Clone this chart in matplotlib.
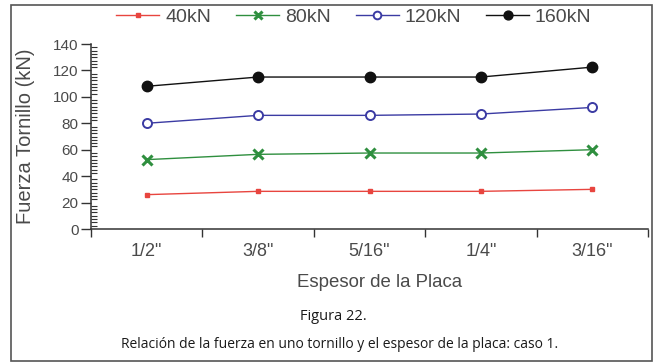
import numpy as np
import matplotlib
matplotlib.use("Agg")
import matplotlib.pyplot as plt
from matplotlib.patches import Rectangle
from matplotlib.ticker import MultipleLocator

# Plate thickness categories and bolt force (kN) for each applied load
espesores = ['1/2"', '3/8"', '5/16"', '1/4"', '3/16"']
serie_40 = [26, 28.5, 28.5, 28.5, 30]
serie_80 = [52.5, 56.5, 57.5, 57.5, 60]
serie_120 = [80, 86, 86, 87, 92]
serie_160 = [108, 115, 115, 115, 122.5]
etiquetas = ["40kN", "80kN", "120kN", "160kN"]

plt.rcParams["font.family"] = ["Liberation Sans", "DejaVu Sans"]
gris = "#4a4a4a"

fig = plt.figure(figsize=(6.56, 3.63), dpi=100)
ax = fig.add_axes([91 / 656, 1 - 229 / 363, (648 - 91) / 656, (229 - 44) / 363])

x = np.arange(len(espesores)) + 0.5
ax.plot(x, serie_40, color="#e8453f", lw=1.0, marker="s", ms=2.8, label=etiquetas[0])
ax.plot(x, serie_80, color="#2f8f3f", lw=1.0, marker="x", ms=6.5, mew=2.2, label=etiquetas[1])
ax.plot(x, serie_120, color="#3b3ba3", lw=1.0, marker="o", ms=6.5, mfc="white", mew=1.4,
        label=etiquetas[2])
ax.plot(x, serie_160, color="#111111", lw=1.0, marker="o", ms=7.5, label=etiquetas[3])

ax.set_xlim(0, len(espesores))
ax.set_ylim(0, 140)
for s in ("top", "right"):
    ax.spines[s].set_visible(False)
for s in ("left", "bottom"):
    ax.spines[s].set_color("#333333")
    ax.spines[s].set_linewidth(1.1)

ax.set_xticks(np.arange(len(espesores) + 1))
ax.set_xticklabels([])
ax.set_xticks(x, minor=True)
ax.set_xticklabels(espesores, minor=True)
ax.tick_params(axis="x", which="major", direction="out", length=6, width=1, color="#333333")
ax.tick_params(axis="x", which="minor", length=0, pad=10, labelsize=13, labelcolor=gris)

ax.yaxis.set_major_locator(MultipleLocator(20))
ax.yaxis.set_minor_locator(MultipleLocator(2.5))
ax.tick_params(axis="y", which="major", direction="out", length=7, width=1, color="#333333",
               labelsize=11, labelcolor=gris, pad=2)
ax.tick_params(axis="y", which="minor", direction="in", length=4, width=0.8, color="#333333")

ax.set_xlabel("Espesor de la Placa", fontsize=13.4, color=gris, va="center")
ax.xaxis.set_label_coords((380 - 91) / 557, -(282 - 229) / 185)
ax.set_ylabel("Fuerza Tornillo (kN)", fontsize=14.5, color=gris)
ax.yaxis.set_label_coords(-(91 - 35) / 557, 0.5)

leg = ax.legend(loc="center", bbox_to_anchor=(354 / 656, 1 - 17 / 363),
                bbox_transform=fig.transFigure, ncol=4, frameon=False,
                fontsize=14, handlelength=2.2, handletextpad=0.3, columnspacing=1.3,
                borderaxespad=0, markerscale=0.85)
for t in leg.get_texts():
    t.set_color(gris)

fig.text(333 / 656, 1 - 316 / 363, "Figura 22.", ha="center", va="center",
         fontsize=10.5, family="Open Sans", color="#1a1a1a")
fig.text(340 / 656, 1 - 344 / 363,
         "Relación de la fuerza en uno tornillo y el espesor de la placa: caso 1.",
         ha="center", va="center", fontsize=10, family="Open Sans", color="#1a1a1a")

fig.patches.append(Rectangle((11 / 656, 2 / 363), 641 / 656, 356 / 363,
                             transform=fig.transFigure, fill=False,
                             edgecolor="#555555", lw=1.2))

fig.savefig("out.png", dpi=100, facecolor="white")
